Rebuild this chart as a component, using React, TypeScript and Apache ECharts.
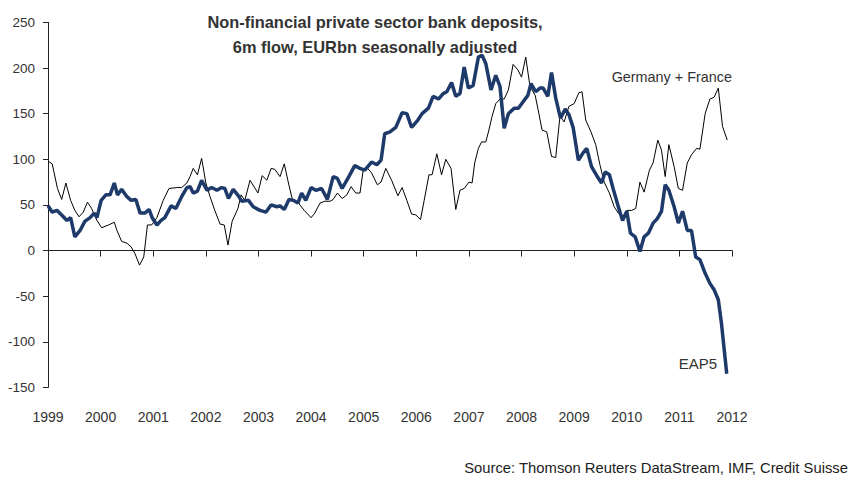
import React, { useEffect, useRef } from "react";
import * as echarts from "echarts";

// Germany + France (thin black line): [decimal year, EURbn]
const gfYears = [
  1999.0, 1999.08, 1999.18, 1999.26, 1999.34, 1999.43, 1999.51, 1999.59, 1999.67, 1999.75, 1999.83, 1999.93,
  2000.02, 2000.15, 2000.26, 2000.31, 2000.4, 2000.5, 2000.58, 2000.65, 2000.74, 2000.82, 2000.89, 2000.97,
  2001.07, 2001.19, 2001.3, 2001.45, 2001.54, 2001.64, 2001.7, 2001.76, 2001.84, 2001.92,
  2002.0, 2002.08, 2002.17, 2002.27, 2002.35, 2002.42, 2002.5, 2002.61, 2002.67, 2002.74, 2002.84, 2002.99,
  2003.07, 2003.16, 2003.24, 2003.31, 2003.41, 2003.49, 2003.57, 2003.64, 2003.76, 2003.87,
  2004.0, 2004.07, 2004.17, 2004.26, 2004.36, 2004.42, 2004.5, 2004.59, 2004.68, 2004.76, 2004.85, 2004.93, 2004.99,
  2005.06, 2005.15, 2005.26, 2005.33, 2005.42, 2005.53, 2005.65, 2005.73, 2005.82, 2005.91, 2005.99,
  2006.08, 2006.15, 2006.24, 2006.3, 2006.39, 2006.48, 2006.56, 2006.66, 2006.75, 2006.83, 2006.91,
  2007.0, 2007.06, 2007.11, 2007.18, 2007.24, 2007.32, 2007.38, 2007.44, 2007.51, 2007.59, 2007.67, 2007.75, 2007.84, 2007.93,
  2008.0, 2008.08, 2008.16, 2008.26, 2008.33, 2008.39, 2008.48, 2008.57, 2008.65, 2008.73, 2008.81, 2008.9,
  2009.0, 2009.09, 2009.15, 2009.22, 2009.32, 2009.41, 2009.49, 2009.57, 2009.67, 2009.76, 2009.84, 2009.92,
  2010.0, 2010.09, 2010.17, 2010.25, 2010.33, 2010.43, 2010.5, 2010.59, 2010.66, 2010.73, 2010.8, 2010.9, 2010.98,
  2011.06, 2011.15, 2011.23, 2011.33, 2011.39, 2011.49, 2011.58, 2011.66, 2011.74, 2011.82, 2011.91,
];
const gfValues = [
  98, 95, 68, 56, 74, 55, 44, 37, 42, 53, 46, 33,
  25, 28, 31, 22, 10, 8, 4, -3, -16, -7, 28, 28,
  36, 55, 68, 69, 69, 74, 81, 90, 83, 101,
  74, 59, 44, 29, 28, 6, 32, 46, 61, 55, 77, 63,
  82, 77, 90, 89, 81, 95, 74, 57, 52, 44,
  36, 41, 52, 54, 54, 56, 63, 57, 61, 70, 63, 63, 88,
  91, 85, 72, 75, 90, 77, 60, 69, 55, 40, 39,
  34, 55, 83, 83, 106, 83, 100, 90, 45, 66, 68,
  75, 74, 96, 112, 119, 119, 132, 147, 161, 166, 166, 176, 204, 198,
  190, 212, 180, 170, 150, 132, 130, 103, 102, 147, 141, 158,
  161, 173, 174, 143, 130, 116, 94, 75, 63, 48, 41, 36,
  44, 44, 46, 75, 64, 88, 96, 121, 110, 81, 116, 92, 68,
  66, 96, 105, 112, 111, 150, 166, 168, 178, 136, 121,
];

// EAP5 (thick navy line): [decimal year, EURbn]
const eapYears = [
  1999.0, 1999.08, 1999.17, 1999.26, 1999.36, 1999.43, 1999.51, 1999.61, 1999.7, 1999.8, 1999.88, 1999.93,
  2000.01, 2000.1, 2000.18, 2000.26, 2000.32, 2000.4, 2000.5, 2000.58, 2000.67, 2000.75, 2000.84, 2000.92, 2000.98,
  2001.07, 2001.15, 2001.22, 2001.34, 2001.43, 2001.54, 2001.64, 2001.7, 2001.76, 2001.84, 2001.92,
  2002.02, 2002.11, 2002.21, 2002.3, 2002.36, 2002.43, 2002.52, 2002.62, 2002.68, 2002.81, 2002.9,
  2003.03, 2003.14, 2003.24, 2003.35, 2003.41, 2003.49, 2003.58, 2003.66, 2003.75, 2003.82, 2003.9,
  2004.0, 2004.09, 2004.2, 2004.31, 2004.42, 2004.5, 2004.59, 2004.7, 2004.83, 2004.93,
  2005.02, 2005.15, 2005.25, 2005.33, 2005.4, 2005.5, 2005.61, 2005.73, 2005.82, 2005.91,
  2006.03, 2006.11, 2006.23, 2006.32, 2006.42, 2006.51, 2006.58, 2006.67, 2006.75, 2006.83, 2006.91, 2006.99,
  2007.08, 2007.18, 2007.25, 2007.32, 2007.42, 2007.51, 2007.59, 2007.67, 2007.75, 2007.86, 2007.94,
  2008.03, 2008.12, 2008.18, 2008.27, 2008.35, 2008.41, 2008.5, 2008.57, 2008.65, 2008.74, 2008.83, 2008.9, 2008.98,
  2009.08, 2009.17, 2009.24, 2009.33, 2009.43, 2009.52, 2009.59, 2009.67, 2009.74, 2009.84, 2009.92,
  2010.0, 2010.07, 2010.16, 2010.25, 2010.33, 2010.41, 2010.5, 2010.58, 2010.66, 2010.73, 2010.8, 2010.9, 2010.98,
  2011.06, 2011.15, 2011.23, 2011.31, 2011.39, 2011.49, 2011.58, 2011.66, 2011.74, 2011.8, 2011.9,
];
const eapValues = [
  49, 42, 44, 39, 33, 36, 15, 22, 32, 36, 41, 36,
  55, 61, 61, 74, 61, 67, 59, 55, 56, 41, 41, 45, 36,
  28, 33, 36, 49, 46, 59, 69, 70, 63, 65, 77,
  66, 69, 66, 69, 68, 57, 67, 60, 54, 55, 48,
  44, 42, 50, 48, 49, 45, 56, 55, 52, 63, 55,
  69, 66, 68, 56, 81, 79, 68, 79, 93, 90,
  88, 97, 94, 99, 128, 130, 135, 151, 150, 135,
  143, 150, 156, 169, 166, 172, 174, 184, 169, 172, 201, 178,
  181, 212, 214, 205, 176, 192, 180, 134, 150, 156, 156,
  163, 170, 183, 174, 178, 178, 169, 195, 167, 145, 155, 149, 135,
  99, 107, 112, 92, 82, 74, 86, 83, 68, 48, 33,
  43, 19, 15, -1, 15, 19, 30, 35, 43, 72, 66, 48, 30,
  43, 22, 22, -7, -10, -25, -36, -43, -54, -80, -135,
];

const yearTicks = [1999, 2000, 2001, 2002, 2003, 2004, 2005, 2006, 2007, 2008, 2009, 2010, 2011, 2012];

const titleLines = [
  "Non-financial private sector bank deposits,",
  "6m flow, EURbn seasonally adjusted",
];
const gfLabel = "Germany + France";
const eapLabel = "EAP5";
const sourceText = "Source: Thomson Reuters DataStream, IMF, Credit Suisse";

const FONT = "'Liberation Sans', Arial, sans-serif";

export default function App() {
  const ref = useRef<HTMLDivElement>(null);

  useEffect(() => {
    if (!ref.current) return;
    const chart = echarts.init(ref.current, undefined, { renderer: "svg" });
    const gfData = gfYears.map((x, i) => [x, gfValues[i]]);
    const eapData = eapYears.map((x, i) => [x, eapValues[i]]);

    chart.setOption({
      animation: false,
      backgroundColor: "#ffffff",
      grid: { left: 48, right: 120, top: 22.4, bottom: 91.6, containLabel: false },
      xAxis: [
        {
          type: "value",
          min: yearTicks[0],
          max: yearTicks[yearTicks.length - 1],
          interval: 1,
          position: "bottom",
          axisLine: { show: false, onZero: false },
          axisTick: { show: false },
          splitLine: { show: false },
          axisLabel: {
            margin: 23,
            color: "#333333",
            fontSize: 14,
            fontFamily: FONT,
            formatter: (v: number) => String(v),
          },
        },
        {
          type: "value",
          min: yearTicks[0],
          max: yearTicks[yearTicks.length - 1],
          interval: 1,
          position: "bottom",
          axisLine: { show: true, onZero: true, onZeroAxisIndex: 0, lineStyle: { color: "#222222", width: 1 } },
          axisTick: { show: true, inside: false, length: 6, lineStyle: { color: "#222222" } },
          axisLabel: { show: false },
          splitLine: { show: false },
        },
      ],
      yAxis: {
        type: "value",
        min: -150,
        max: 250,
        interval: 50,
        axisLine: { show: true, lineStyle: { color: "#222222", width: 1 } },
        axisTick: { show: true, inside: false, length: 5, lineStyle: { color: "#222222" } },
        splitLine: { show: false },
        axisLabel: { margin: 13, color: "#333333", fontSize: 13.5, fontFamily: FONT },
      },
      series: [
        {
          name: gfLabel,
          type: "line",
          xAxisIndex: 0,
          data: gfData,
          showSymbol: false,
          lineStyle: { color: "#000000", width: 1 },
          z: 2,
        },
        {
          name: eapLabel,
          type: "line",
          xAxisIndex: 0,
          data: eapData,
          showSymbol: false,
          lineStyle: { color: "#1d3a6a", width: 3.5 },
          z: 3,
        },
      ],
      graphic: [
        {
          type: "text",
          x: 375,
          y: 21.5,
          style: { text: titleLines[0], fill: "#333333", font: `bold 16.4px ${FONT}`, align: "center", verticalAlign: "middle" },
        },
        {
          type: "text",
          x: 375,
          y: 46.5,
          style: { text: titleLines[1], fill: "#333333", font: `bold 16.4px ${FONT}`, align: "center", verticalAlign: "middle" },
        },
        {
          type: "text",
          x: 732,
          y: 77,
          style: { text: gfLabel, fill: "#333333", font: `14.4px ${FONT}`, align: "right", verticalAlign: "middle" },
        },
        {
          type: "text",
          x: 717,
          y: 363,
          style: { text: eapLabel, fill: "#333333", font: `15px ${FONT}`, align: "right", verticalAlign: "middle" },
        },
        {
          type: "text",
          x: 848,
          y: 468,
          style: { text: sourceText, fill: "#222222", font: `14.8px ${FONT}`, align: "right", verticalAlign: "middle" },
        },
      ],
    });
    return () => chart.dispose();
  }, []);

  return (
    <div
      ref={ref}
      style={{ position: "fixed", left: 0, top: 0, width: 852, height: 479, background: "#fff" }}
    />
  );
}
